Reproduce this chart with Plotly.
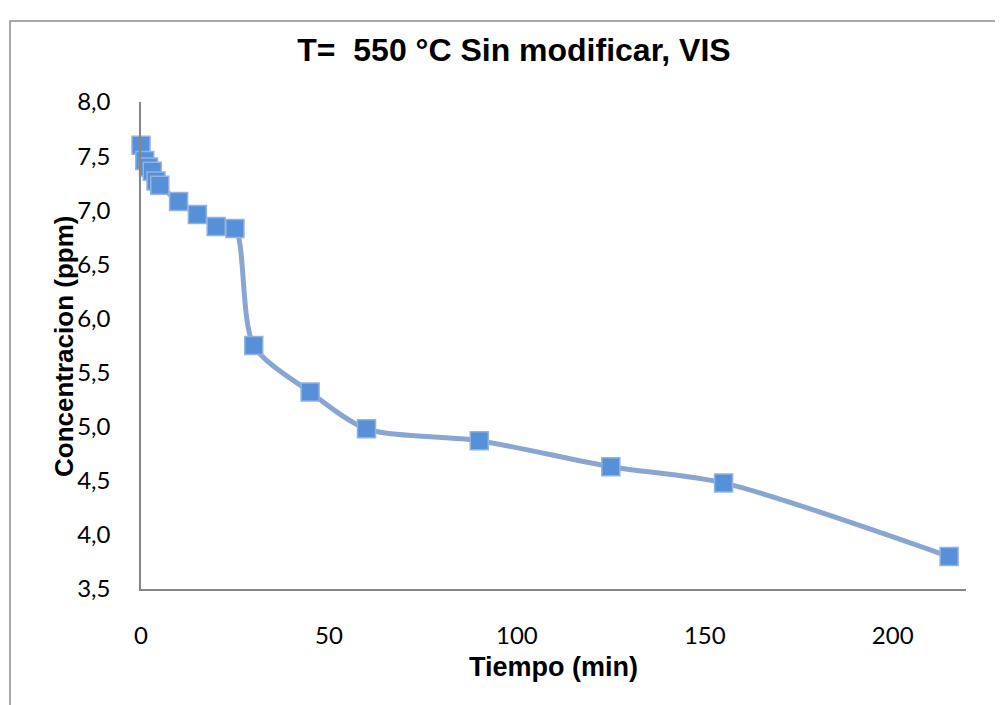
import plotly.graph_objects as go

# data
tiempo_min = [0, 1, 2, 3, 4, 5, 10, 15, 20, 25, 30, 45, 60, 90, 125, 155, 215]
concentracion_ppm = [7.60, 7.46, 7.40, 7.36, 7.27, 7.23, 7.08, 6.96, 6.85, 6.83,
                     5.75, 5.32, 4.98, 4.87, 4.63, 4.48, 3.80]

x_ticks = [0, 50, 100, 150, 200]
y_ticks = [3.5, 4.0, 4.5, 5.0, 5.5, 6.0, 6.5, 7.0, 7.5, 8.0]

title_font = 'Liberation Sans, Arial, sans-serif'
tick_font = 'Lato, Open Sans, sans-serif'

# the page body has an 8px margin, so the figure is drawn 8px smaller
PAGE_OFFSET = 8
W, H = 1003 - PAGE_OFFSET, 705 - PAGE_OFFSET

fig = go.Figure()

fig.add_trace(
    go.Scatter(
        x=tiempo_min,
        y=concentracion_ppm,
        mode='lines+markers',
        line=dict(color='#8aa5cf', width=5, shape='spline', smoothing=0.8),
        marker=dict(symbol='square', size=18, color='#5590d8',
                    line=dict(color='#92b2e0', width=1.5)),
        cliponaxis=False,
        showlegend=False
    )
)

fig.update_layout(
    width=W,
    height=H,
    paper_bgcolor='white',
    plot_bgcolor='white',
    separators=',.',
    margin=dict(l=141 - PAGE_OFFSET, r=37, t=102 - PAGE_OFFSET, b=116),
    title=dict(
        text='<b>T=  550 °C Sin modificar, VIS</b>',
        xref='container', yref='container',
        x=(514 - PAGE_OFFSET) / W, y=1 - (50 - PAGE_OFFSET) / H,
        xanchor='center', yanchor='middle',
        font=dict(family=title_font, size=32, color='black')
    ),
    showlegend=False
)

fig.update_xaxes(
    range=[0, 219.5],
    tickvals=x_ticks,
    showgrid=False,
    zeroline=False,
    showline=True,
    linecolor='#868686',
    linewidth=1.5,
    ticks='',
    ticklabelstandoff=24,
    tickfont=dict(family=tick_font, size=24, color='black')
)

fig.update_yaxes(
    range=[3.5, 8.0],
    tickvals=y_ticks,
    tickformat='.1f',
    showgrid=False,
    zeroline=False,
    showline=True,
    linecolor='#868686',
    linewidth=1.5,
    ticks='',
    ticklabelstandoff=24,
    tickfont=dict(family=tick_font, size=24, color='black')
)

# axis titles (positions in plot-area fractions)
fig.add_annotation(
    text='<b>Tiempo (min)</b>', xref='paper', yref='paper',
    x=0.5, y=(589 - 667) / 487, xanchor='center', yanchor='middle',
    showarrow=False, font=dict(family=title_font, size=27, color='black')
)
fig.add_annotation(
    text='<b>Concentracion (ppm)</b>', xref='paper', yref='paper',
    x=(64 - 141) / 825, y=(589 - 347) / 487, xanchor='center', yanchor='middle',
    textangle=-90, showarrow=False,
    font=dict(family=title_font, size=26, color='black')
)

# chart area frame (partly cut off on the right and bottom)
fig.add_shape(
    type='rect', xref='paper', yref='paper',
    x0=(10 - 141) / 825, x1=(1020 - 141) / 825,
    y0=(589 - 720) / 487, y1=(589 - 21) / 487,
    line=dict(color='#8c8c8c', width=1.5), fillcolor='rgba(0,0,0,0)',
    layer='below'
)

fig.write_html("out.html")
